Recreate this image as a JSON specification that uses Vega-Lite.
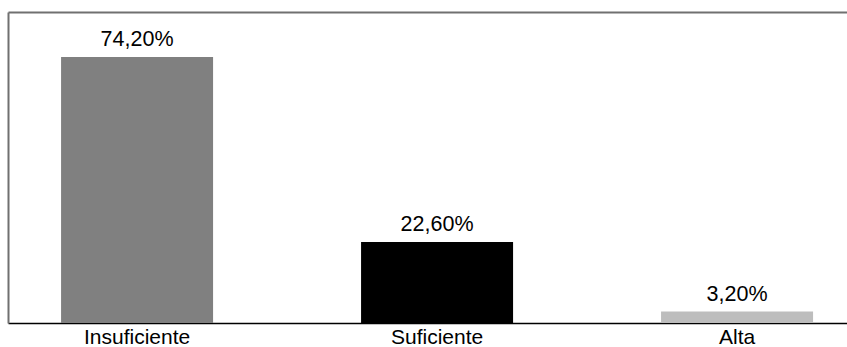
{
  "$schema": "https://vega.github.io/schema/vega-lite/v6.json",
  "width": 839,
  "height": 311,
  "autosize": {"type": "none"},
  "padding": {"left": 8, "top": 12, "right": 0, "bottom": 24},
  "background": "white",
  "config": {
    "locale": {"number": {"decimal": ",", "thousands": ".", "grouping": [3], "currency": ["", "€"]}},
    "view": {"stroke": null},
    "font": "Liberation Sans"
  },
  "data": {
    "values": [
      {"nivel": "Insuficiente", "valor": 0.742},
      {"nivel": "Suficiente", "valor": 0.226},
      {"nivel": "Alta", "valor": 0.032}
    ]
  },
  "encoding": {
    "y": {
      "field": "valor",
      "type": "quantitative",
      "scale": {"domain": [0, 0.8675], "nice": false},
      "axis": {"domain": true, "domainColor": "#707070", "domainWidth": 2, "labels": false, "ticks": false, "grid": false, "title": null}
    }
  },
  "layer": [
    {
      "mark": {"type": "bar"},
      "encoding": {
        "x": {
          "field": "nivel",
          "type": "nominal",
          "sort": null,
          "scale": {"paddingInner": 0.4933, "paddingOuter": 0.145, "align": 0.61},
          "axis": {"title": null, "labelAngle": 0, "ticks": false, "domainColor": "#000000", "domainWidth": 1.5, "labelFontSize": 21, "labelColor": "#000000", "labelPadding": 3}
        },
        "color": {
          "field": "nivel",
          "type": "nominal",
          "scale": {"domain": ["Insuficiente", "Suficiente", "Alta"], "range": ["#808080", "#000000", "#bdbdbd"]},
          "legend": null
        }
      }
    },
    {
      "mark": {"type": "text", "baseline": "alphabetic", "dy": -11, "fontSize": 21.5, "color": "#000000"},
      "encoding": {
        "x": {
          "field": "nivel",
          "type": "nominal",
          "sort": null,
          "axis": {"orient": "top", "title": null, "labels": false, "ticks": false, "domainColor": "#707070", "domainWidth": 2}
        },
        "text": {"field": "valor", "type": "quantitative", "format": ".2%"}
      }
    }
  ],
  "resolve": {"axis": {"x": "independent"}}
}
